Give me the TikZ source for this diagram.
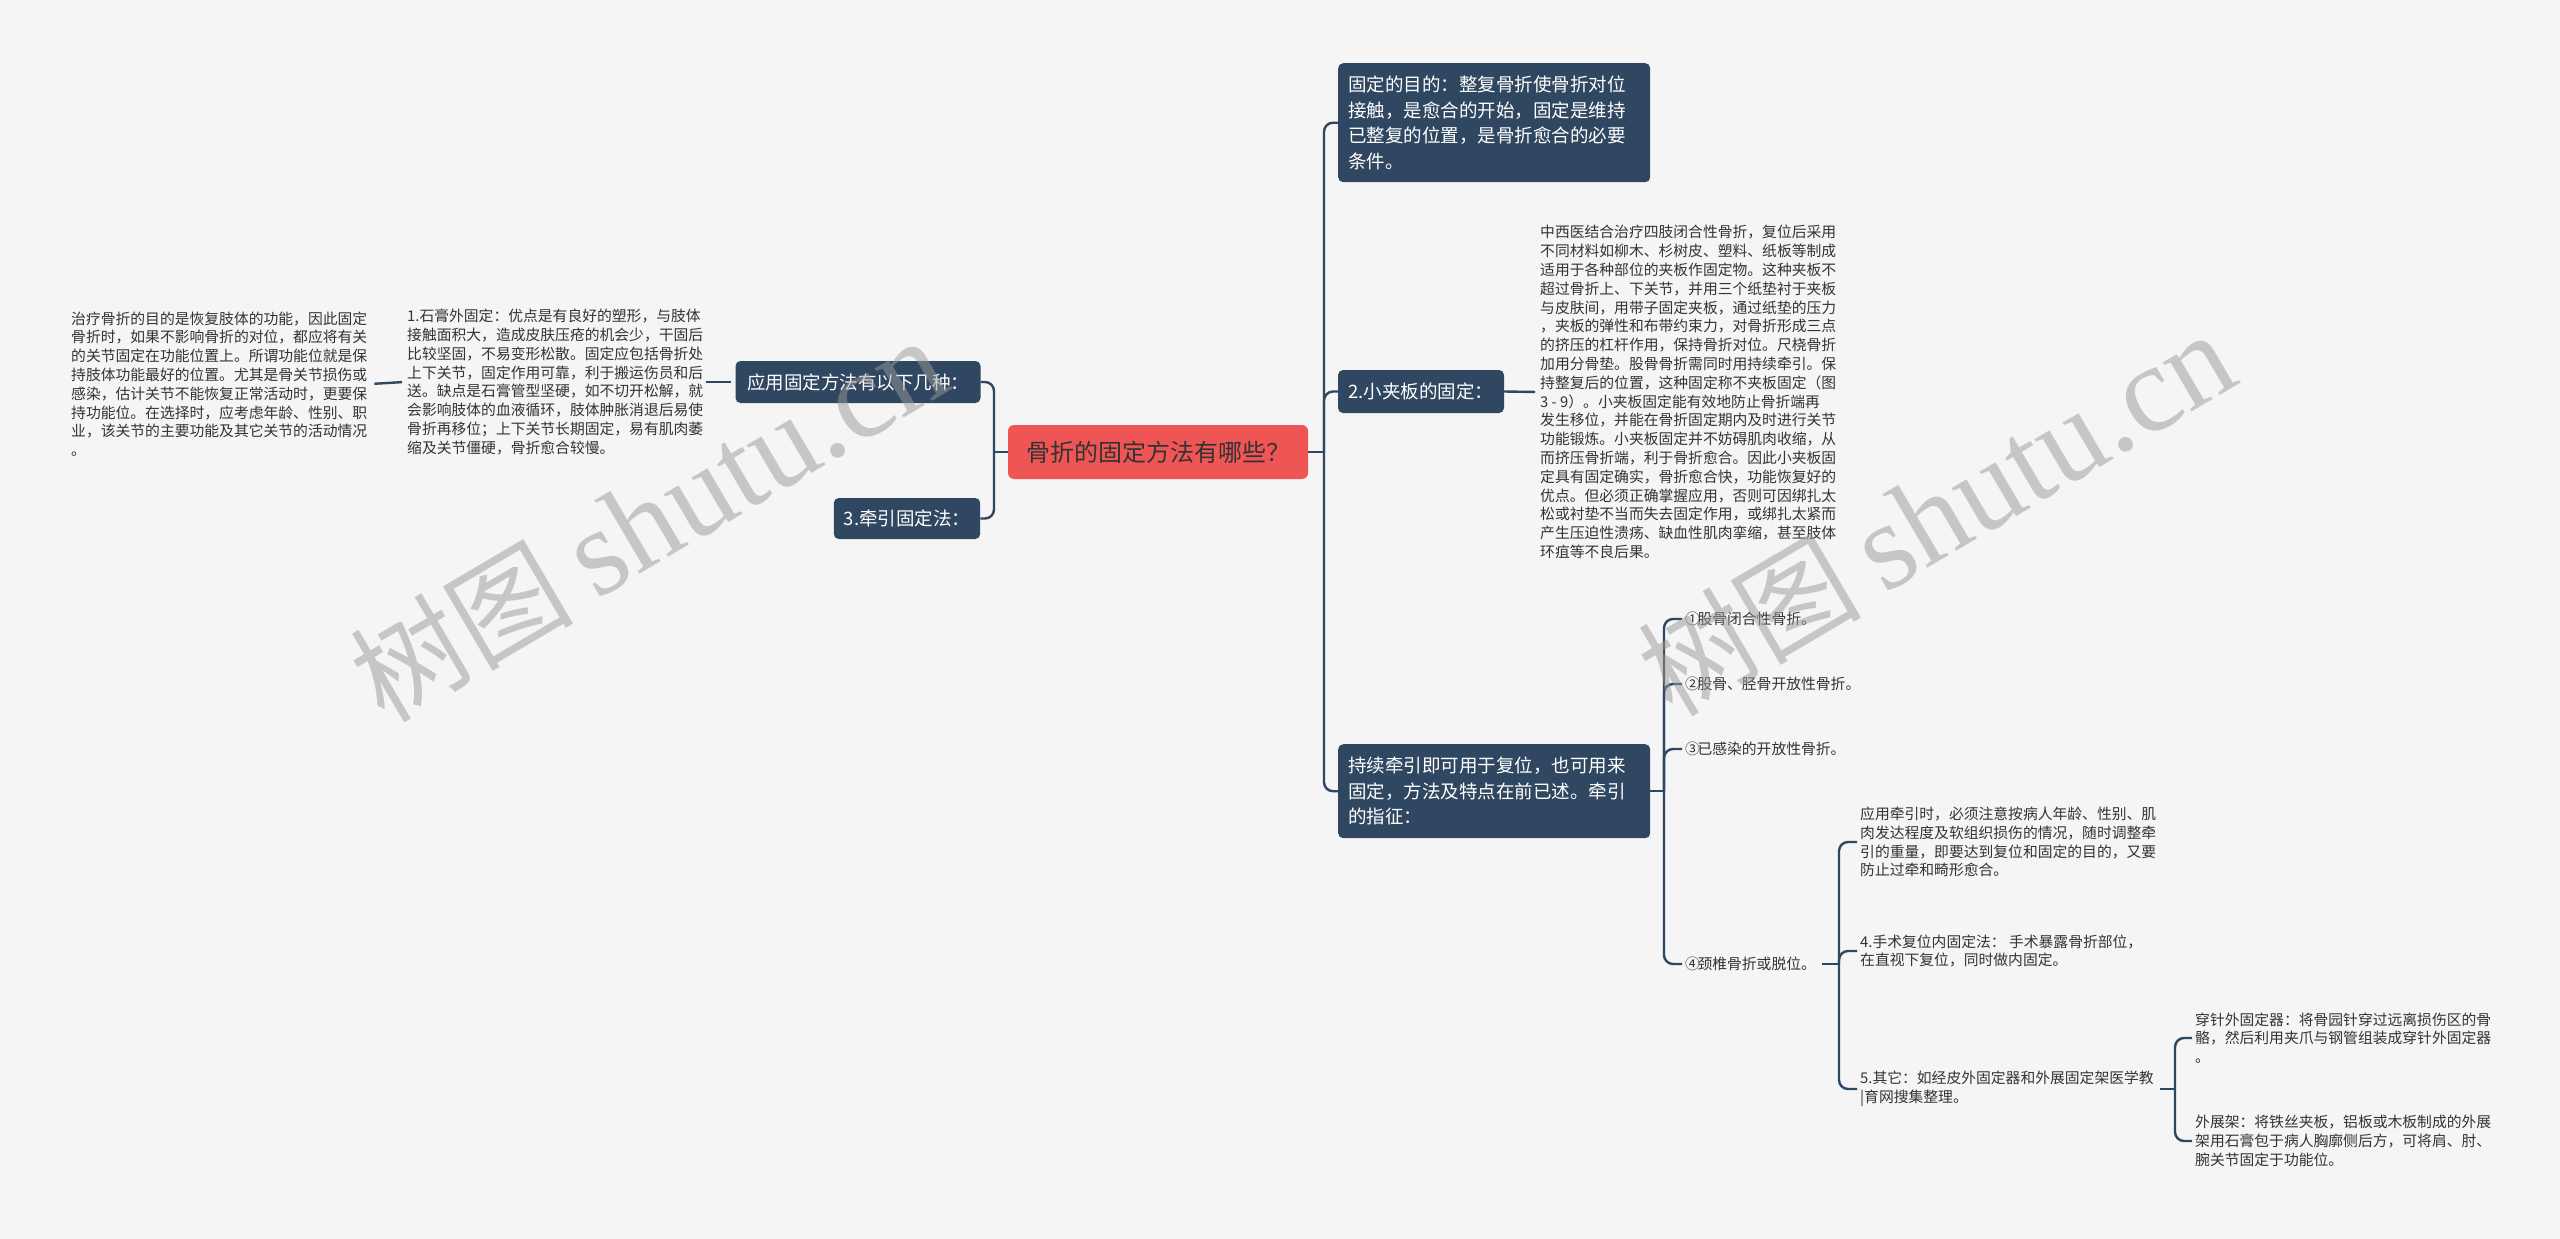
\documentclass[tikz,border=0pt]{standalone}
\usepackage{fontspec}
\newfontfamily\cjk{Noto Sans CJK SC}
\newfontfamily\wmserif{Liberation Serif}
\definecolor{bg}{HTML}{F5F5F5}
\definecolor{navy}{HTML}{2F4760}
\definecolor{rootred}{HTML}{EF5555}
\definecolor{txt}{HTML}{333333}
\newcommand{\cn}[1]{#1\kern-2.5pt}
\begin{document}
\begin{tikzpicture}[x=1pt,y=-1pt,
  conn/.style={draw=navy, line width=2.4pt, rounded corners=9pt},
  mainbox/.style={fill=navy, text=white, rounded corners=5pt,
    font=\cjk\fontsize{18.5}{25.5}\selectfont, inner xsep=10pt, inner ysep=8pt, align=left},
  rootbox/.style={fill=rootred, text=txt, rounded corners=6pt,
    font=\cjk\fontsize{24}{30}\selectfont, minimum width=300pt, minimum height=54pt},
  leaf/.style={text=txt, font=\cjk\fontsize{14.8}{18.8}\selectfont, align=left,
    inner xsep=3pt, inner ysep=2pt},
  wm/.style={text=black!40, text opacity=0.5, rotate=30.5, inner sep=0pt}
]
\fill[bg] (0,0) rectangle (2560,1239);
\useasboundingbox (0,0) rectangle (2560,1239);

% trunk x positions
\coordinate (tL) at (994,0);
\coordinate (tR) at (1324,0);
\coordinate (t4) at (1664,0);
\coordinate (t5) at (1839,0);
\coordinate (t6) at (2175,0);

% root
\node[rootbox] (root) at (1158,452) {骨折的固定方法有哪些？};

% left side
\node[mainbox, minimum width=245pt, minimum height=42pt, align=center] (app) at (858,382) {应用固定方法有以下几种：};
\node[mainbox, minimum width=146pt, minimum height=41pt, align=center] (qy) at (907,518.5) {3.牵引固定法：};
\node[leaf, anchor=west] (sg) at (404,382) {1.石膏外固定：优点是有良好的塑形，与肢体\\
接触面积大，造成皮肤压疮的机会少，干固后\\
比较坚固，不易变形松散。固定应包括骨折处\\
上下关节，固定作用可靠，利于搬运伤员和后\\
送。缺点是石膏管型坚硬，如不切开松解，就\\
会影响肢体的血液循环，肢体肿胀消退后易使\\
骨折再移位；上下关节长期固定，易有肌肉萎\\
缩及关节僵硬，骨折愈合较慢。};
\node[leaf, anchor=west] (zl) at (68,384) {治疗骨折的目的是恢复肢体的功能，因此固定\\
骨折时，如果不影响骨折的对位，都应将有关\\
的关节固定在功能位置上。所谓功能位就是保\\
持肢体功能最好的位置。尤其是骨关节损伤或\\
感染，估计关节不能恢复正常活动时，更要保\\
持功能位。在选择时，应考虑年龄、性别、职\\
业，该关节的主要功能及其它关节的活动情况\\
。};

% right side
\node[mainbox, anchor=north west, text width=292pt, minimum height=119pt] (mu) at (1338,63) {固定的目的：整复骨折使骨折对位\\接触，是愈合的开始，固定是维持\\已整复的位置，是骨折愈合的必要\\条件。};
\node[mainbox, minimum width=166pt, minimum height=43pt, align=center] (xjb) at (1421,391.5) {2.小夹板的固定：};
\node[mainbox, anchor=north west, text width=292pt, minimum height=94pt] (cx) at (1338,744) {持续牵引即可用于复位，也可用来\\固定，方法及特点在前已述。牵引\\的指征：};

\node[leaf, anchor=west] (xjbt) at (1537,392) {中西医结合治疗四肢闭合性骨折，复位后采用\\
不同材料如柳木、杉树皮、塑料、纸板等制成\\
适用于各种部位的夹板作固定物。这种夹板不\\
超过骨折上、下关节，并用三个纸垫衬于夹板\\
与皮肤间，用带子固定夹板，通过纸垫的压力\\
，夹板的弹性和布带约束力，对骨折形成三点\\
的挤压的杠杆作用，保持骨折对位。尺桡骨折\\
加用分骨垫。股骨骨折需同时用持续牵引。保\\
持整复后的位置，这种固定称不夹板固定（图\\
3 - 9）。小夹板固定能有效地防止骨折端再\\
发生移位，并能在骨折固定期内及时进行关节\\
功能锻炼。小夹板固定并不妨碍肌肉收缩，从\\
而挤压骨折端，利于骨折愈合。因此小夹板固\\
定具有固定确实，骨折愈合快，功能恢复好的\\
优点。但必须正确掌握应用，否则可因绑扎太\\
松或衬垫不当而失去固定作用，或绑扎太紧而\\
产生压迫性溃疡、缺血性肌肉挛缩，甚至肢体\\
环疽等不良后果。};

\node[leaf, anchor=west] (i1) at (1682,619) {\cn{①}股骨闭合性骨折。};
\node[leaf, anchor=west] (i2) at (1682,684) {\cn{②}股骨、胫骨开放性骨折。};
\node[leaf, anchor=west] (i3) at (1682,749) {\cn{③}已感染的开放性骨折。};
\node[leaf, anchor=west] (i4) at (1682,964) {\cn{④}颈椎骨折或脱位。};

\node[leaf, anchor=west] (qyt) at (1857,842) {应用牵引时，必须注意按病人年龄、性别、肌\\
肉发达程度及软组织损伤的情况，随时调整牵\\
引的重量，即要达到复位和固定的目的，又要\\
防止过牵和畸形愈合。};
\node[leaf, anchor=west] (ss) at (1857,951) {4.手术复位内固定法： 手术暴露骨折部位，\\
在直视下复位，同时做内固定。};
\node[leaf, anchor=west] (qt) at (1857,1089) {5.其它：如经皮外固定器和外展固定架医学教\\
|育网搜集整理。};

\node[leaf, anchor=west] (cz) at (2192,1038) {穿针外固定器：将骨园针穿过远离损伤区的骨\\
骼，然后利用夹爪与钢管组装成穿针外固定器\\
。};
\node[leaf, anchor=west] (wz) at (2192,1141) {外展架：将铁丝夹板，铝板或木板制成的外展\\
架用石膏包于病人胸廓侧后方，可将肩、肘、\\
腕关节固定于功能位。};

% connectors left
\draw[conn] (root.west) -- (root.west -| tL);
\draw[conn] (root.west -| tL) |- (app.east);
\draw[conn] (root.west -| tL) |- (qy.east);
\draw[conn, shorten <=4pt] (app.west) -- (sg.east);
\draw[conn, shorten <=2pt, shorten >=4pt] (sg.west) -- (zl.east);

% connectors right
\draw[conn] (root.east) -- (root.east -| tR);
\draw[conn] (root.east -| tR) |- (mu.west);
\draw[conn] (root.east -| tR) |- (xjb.west);
\draw[conn] (root.east -| tR) |- (cx.west);
\draw[conn, shorten >=2pt] (xjb.east) -- (xjbt.west);

\draw[conn] (cx.east) -- (cx.east -| t4);
\draw[conn] (cx.east -| t4) |- (i1.west);
\draw[conn] (cx.east -| t4) |- (i2.west);
\draw[conn] (cx.east -| t4) |- (i3.west);
\draw[conn] (cx.east -| t4) |- (i4.west);

\draw[conn, shorten <=3pt] (i4.east) -- (i4.east -| t5);
\draw[conn] (i4.east -| t5) |- (qyt.west);
\draw[conn] (i4.east -| t5) |- (ss.west);
\draw[conn] (i4.east -| t5) |- (qt.west);

\draw[conn, shorten <=3pt] (qt.east) -- (qt.east -| t6);
\draw[conn] (qt.east -| t6) |- (cz.west);
\draw[conn] (qt.east -| t6) |- (wz.west);

% watermarks
\node[wm] (w1) at (648,520) {{\cjk\fontsize{112}{114}\selectfont 树图}\hspace{22pt}{\wmserif\fontsize{124}{126}\selectfont shutu.cn}};
\node[wm] (w2) at (1936,514) {{\cjk\fontsize{112}{114}\selectfont 树图}\hspace{22pt}{\wmserif\fontsize{124}{126}\selectfont shutu.cn}};
\end{tikzpicture}
\end{document}
